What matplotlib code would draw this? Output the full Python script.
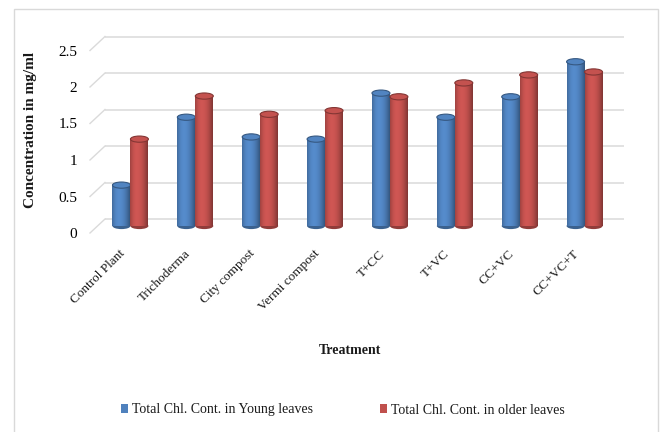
import numpy as np
import matplotlib
matplotlib.use("Agg")
import matplotlib.pyplot as plt
from matplotlib.patches import Ellipse, Rectangle, Patch
from matplotlib.transforms import ScaledTranslation, IdentityTransform
from matplotlib.lines import Line2D
from matplotlib.colors import to_rgb

# ---- data -------------------------------------------------------------
treatments = ["Control Plant", "Trichoderma", "City compost", "Vermi compost",
              "T+CC", "T+VC", "CC+VC", "CC+VC+T"]
young_leaves = [0.56, 1.49, 1.22, 1.19, 1.82, 1.49, 1.77, 2.25]
older_leaves = [1.19, 1.78, 1.53, 1.58, 1.77, 1.96, 2.07, 2.11]
y_ticks = [0, 0.5, 1, 1.5, 2, 2.5]
y_tick_labels = ["0", "0.5", "1", "1.5", "2", "2.5"]
series_names = ["Total Chl. Cont. in Young leaves", "Total Chl. Cont. in older leaves"]
series_colors = ["#4F81BD", "#C0504D"]

# ---- figure -----------------------------------------------------------
W, H, DPI = 664, 432, 100
plt.rcParams['font.family'] = ['Liberation Serif', 'DejaVu Serif']
plt.rcParams['text.color'] = '#1a1a1a'
fig = plt.figure(figsize=(W / DPI, H / DPI), dpi=DPI)
fig.patch.set_facecolor('white')

# front plane of the 3-D plot area
ax = fig.add_axes([90 / W, (H - 233) / H, 519 / W, 182.5 / H])
ax.patch.set_alpha(0)
for s in ax.spines.values():
    s.set_visible(False)


def shift(dx, dy):
    """Data transform pushed back into the depth of the 3-D box (pixels)."""
    return ax.transData + ScaledTranslation(dx / DPI, dy / DPI, fig.dpi_scale_trans)


back = shift(15, 14)   # back wall
mid = shift(8, 7)      # plane in which the cylinders stand

n = len(treatments)
ymax = y_ticks[-1]
ax.set_xlim(0, n)
ax.set_ylim(0, ymax)

# gridlines on the back wall + side wall diagonals
grid_col = '#dadada'
for v in y_ticks:
    ax.plot([0, n], [v, v], transform=back, color=grid_col, lw=1.1,
            clip_on=False, zorder=1, solid_capstyle='butt')
    p = ax.transData.transform((0, v))
    ax.add_line(Line2D([p[0], p[0] + 15], [p[1], p[1] + 14],
                       transform=IdentityTransform(), color=grid_col,
                       lw=1.0, clip_on=False, zorder=1))

# ---- cylinders ----------------------------------------------------------
x = np.arange(n) + 0.5
bw = 0.277
cap_h = 0.085
u = np.linspace(0, 1, 80)
shade = np.where(u < 0.38,
                 0.80 + 0.28 * (1 - ((u - 0.38) / 0.40) ** 2).clip(0),
                 0.66 + 0.42 * (1 - ((u - 0.38) / 0.62) ** 2))

for k, (vals, col) in enumerate(zip([young_leaves, older_leaves], series_colors)):
    base = np.array(to_rgb(col))
    grad = np.clip(base[None, :] * shade[:, None], 0, 1)[None, :, :]
    xc = x + (k - 0.5) * bw
    z = 3 + k * 0.1
    bars = ax.bar(xc, vals, width=bw, color=col, transform=mid,
                  zorder=z, clip_on=False, linewidth=0)
    for r, v, xx in zip(bars, vals, xc):
        ax.add_patch(Ellipse((xx, 0), bw, cap_h, transform=mid,
                             fc=np.clip(base * 0.75, 0, 1), ec='none',
                             zorder=z - 0.05, clip_on=False))
        ax.imshow(grad, extent=(xx - bw / 2, xx + bw / 2, 0, v), aspect='auto',
                  transform=mid, interpolation='bilinear', zorder=z + 0.01,
                  clip_on=False)
        ax.add_patch(Ellipse((xx, v), bw, cap_h, transform=mid,
                             fc=np.clip(base * 1.02, 0, 1),
                             ec=np.clip(base * 0.68, 0, 1), lw=0.8,
                             zorder=z + 0.02, clip_on=False))

ax.set_xlim(0, n)
ax.set_ylim(0, ymax)
ax.set_aspect('auto')

# ---- axes text ----------------------------------------------------------
ax.set_xticks([])
ax.set_yticks(y_ticks, y_tick_labels)
ax.tick_params(axis='y', length=0, pad=9, labelsize=11)

lab_tr = shift(1, -19)
for xi, t in zip(x, treatments):
    ax.text(xi, 0, t, transform=lab_tr, rotation=45, rotation_mode='anchor',
            ha='right', va='center', fontsize=9.5)

fig.text(350 / W, 1 - 350 / H, "Treatment", ha='center', va='center',
         fontsize=10, fontweight='bold')
fig.text(31 / W, 1 - 130 / H, "Concentration in mg/ml", ha='center',
         va='center', rotation=90, fontsize=11, fontweight='bold')

handles = [Patch(facecolor=c, edgecolor='none') for c in series_colors]
fig.legend(handles, series_names, loc='center',
           bbox_to_anchor=(0.516, 1 - 410 / H), ncol=2, frameon=False,
           handlelength=0.55, handleheight=0.55, handletextpad=0.25,
           columnspacing=4.8, fontsize=10)

# chart border
fig.add_artist(Rectangle((14 / W, -0.02), (658 - 14) / W, 1 - 9 / H + 0.02,
                         transform=fig.transFigure, fill=False,
                         ec='#d9d9d9', lw=1))

fig.savefig("out.png", dpi=DPI)
